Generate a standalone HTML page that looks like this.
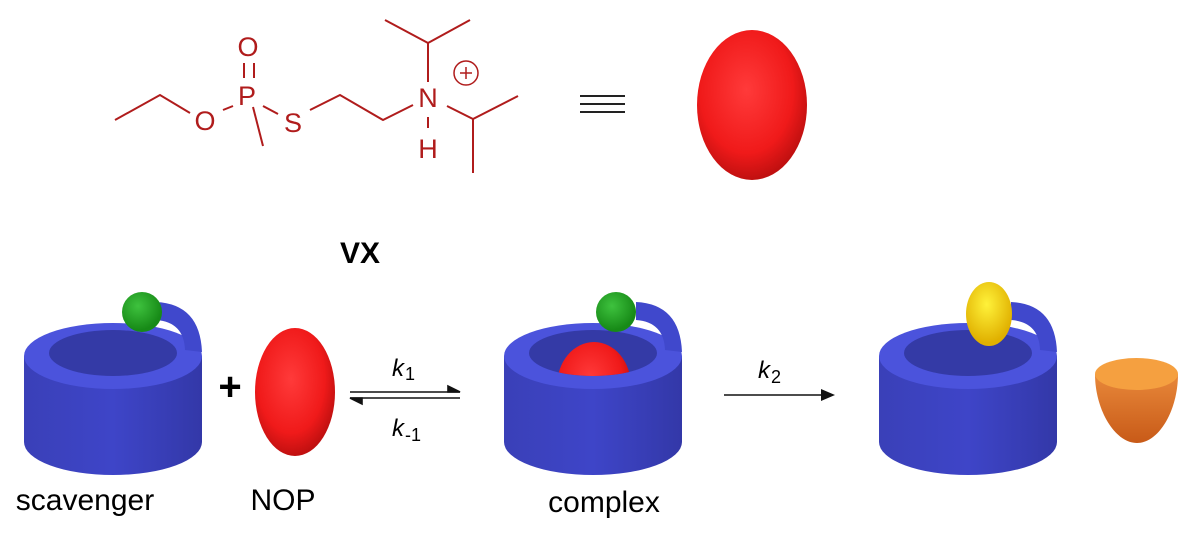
<!DOCTYPE html>
<html><head><meta charset="utf-8"><style>
html,body{margin:0;padding:0;background:#fff;}
svg{display:block;}
text{font-family:"Liberation Sans",sans-serif;}
</style></head><body>
<svg width="1200" height="533" viewBox="0 0 1200 533" xmlns="http://www.w3.org/2000/svg">
<defs>
<radialGradient id="red" cx="0.45" cy="0.4" r="0.6"><stop offset="0" stop-color="#ff3a3a"/><stop offset="0.7" stop-color="#f01a1a"/><stop offset="1" stop-color="#c01010"/></radialGradient>
<radialGradient id="green" cx="0.4" cy="0.35" r="0.6"><stop offset="0" stop-color="#3ec23e"/><stop offset="1" stop-color="#178a17"/></radialGradient>
<radialGradient id="yellow" cx="0.45" cy="0.35" r="0.6"><stop offset="0" stop-color="#fff23a"/><stop offset="1" stop-color="#e0b000"/></radialGradient>
<linearGradient id="body" x1="0" x2="1" y1="0" y2="0"><stop offset="0" stop-color="#3a40b8"/><stop offset="0.5" stop-color="#3e45c8"/><stop offset="1" stop-color="#3338a8"/></linearGradient>
<linearGradient id="orange" x1="0" x2="0" y1="0" y2="1"><stop offset="0" stop-color="#e8883a"/><stop offset="1" stop-color="#c85a18"/></linearGradient>
<clipPath id="hole"><ellipse cx="113" cy="353" rx="64" ry="23"/></clipPath>
<g id="cyl">
<rect x="24" y="356" width="178" height="86" fill="url(#body)"/>
<ellipse cx="113" cy="442" rx="89" ry="33" fill="url(#body)"/>
<ellipse cx="113" cy="356" rx="89" ry="33" fill="#4b53dc"/>
<ellipse cx="113" cy="353" rx="64" ry="23" fill="#343aa6"/>
<path d="M156 302 Q200 304 202 352 L185 350 Q184 322 156 320 Z" fill="#4048cc"/>
</g>
</defs>

<!-- Molecule -->
<g stroke="#b01c1c" stroke-width="2" fill="none">
<polyline points="115,120 160,95 190,113"/>
<line x1="223" y1="110" x2="233" y2="106"/>
<line x1="244" y1="63" x2="244" y2="78"/><line x1="254" y1="63" x2="254" y2="78"/>
<line x1="253" y1="107" x2="263" y2="146"/>
<line x1="263" y1="106" x2="278" y2="114"/>
<polyline points="310,110 340,95 383,120 413,105"/>
<line x1="428" y1="82" x2="428" y2="43"/>
<line x1="428" y1="43" x2="385" y2="20"/><line x1="428" y1="43" x2="470" y2="20"/>
<line x1="428" y1="117" x2="428" y2="128"/>
<polyline points="447,106 473,119 518,96"/>
<line x1="473" y1="119" x2="473" y2="173"/>
<circle cx="466" cy="73" r="12" stroke-width="1.5"/>
<line x1="460" y1="73" x2="472" y2="73" stroke-width="1.5"/><line x1="466" y1="67" x2="466" y2="79" stroke-width="1.5"/>
</g>
<g fill="#b01c1c" font-size="27" text-anchor="middle">
<text x="205" y="130">O</text>
<text x="247" y="105">P</text>
<text x="248" y="56">O</text>
<text x="293" y="132">S</text>
<text x="428" y="107">N</text>
<text x="428" y="158">H</text>
</g>
<g stroke="#222" stroke-width="2"><line x1="580" y1="96" x2="625" y2="96"/><line x1="580" y1="104" x2="625" y2="104"/><line x1="580" y1="112" x2="625" y2="112"/></g>
<ellipse cx="752" cy="105" rx="55" ry="75" fill="url(#red)"/>
<text x="360" y="263" font-size="30" font-weight="bold" text-anchor="middle">VX</text>

<!-- scavenger -->
<use href="#cyl"/>
<circle cx="142" cy="312" r="20" fill="url(#green)"/>
<text x="230" y="400" font-size="40" font-weight="bold" text-anchor="middle">+</text>
<ellipse cx="295" cy="392" rx="40" ry="64" fill="url(#red)"/>
<text x="85" y="510" font-size="30" text-anchor="middle">scavenger</text>
<text x="283" y="510" font-size="30" text-anchor="middle">NOP</text>

<!-- equilibrium arrows -->
<g stroke="#111" stroke-width="1.6" fill="#111">
<line x1="350" y1="392" x2="460" y2="392"/>
<line x1="350" y1="398" x2="460" y2="398"/>
<path d="M460 392 L448 386 L448 392 Z"/>
<path d="M350 398 L362 404 L362 398 Z"/>
</g>
<text x="392" y="376" font-size="24" font-style="italic">k</text><text x="405" y="380" font-size="18">1</text>
<text x="392" y="436" font-size="24" font-style="italic">k</text><text x="405" y="441" font-size="18">-1</text>

<!-- complex -->
<g transform="translate(480,0)">
<use href="#cyl"/>
<g clip-path="url(#hole)"><ellipse cx="114" cy="386" rx="37" ry="44" fill="url(#red)"/></g>
<circle cx="136" cy="312" r="20" fill="url(#green)"/>
</g>
<text x="604" y="512" font-size="30" text-anchor="middle">complex</text>

<!-- k2 arrow -->
<line x1="724" y1="395" x2="825" y2="395" stroke="#111" stroke-width="1.6"/>
<path d="M835 395 L821 389 L821 401 Z" fill="#111"/>
<text x="758" y="378" font-size="24" font-style="italic">k</text><text x="771" y="383" font-size="18">2</text>

<!-- product -->
<g transform="translate(855,0)"><use href="#cyl"/></g>
<ellipse cx="989" cy="314" rx="23" ry="32" fill="url(#yellow)"/>
<path d="M1095 374 C1095 410 1115 443 1137 443 C1159 443 1178 410 1178 374 Z" fill="url(#orange)"/>
<ellipse cx="1136.5" cy="374" rx="41.5" ry="16" fill="#f5a040"/>
</svg>
</body></html>
